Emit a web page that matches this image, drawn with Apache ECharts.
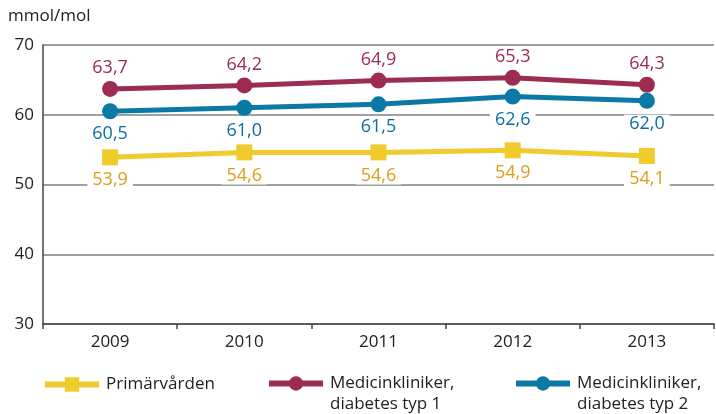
<!DOCTYPE html>
<html>
<head>
<meta charset="utf-8">
<script src="https://cdn.jsdelivr.net/npm/echarts@6/dist/echarts.min.js"></script>
<style>
  html, body { margin: 0; padding: 0; background: #fff; }
  #chart { width: 716px; height: 414px; }
</style>
</head>
<body>
<div id="chart"></div>
<script>
const years = ['2009', '2010', '2011', '2012', '2013'];
const primarvarden = [53.9, 54.6, 54.6, 54.9, 54.1];
const typ1 = [63.7, 64.2, 64.9, 65.3, 64.3];
const typ2 = [60.5, 61.0, 61.5, 62.6, 62.0];
const seriesNames = ['Primärvården', 'Medicinkliniker,\ndiabetes typ 1', 'Medicinkliniker,\ndiabetes typ 2'];

const FONT = '"Open Sans", "Noto Sans", sans-serif';
const fmt = p => p.value.toFixed(1).replace('.', ',');

// serie: namn, data, linjefärg, textfärg, markör, labelposition
function makeSeries(name, data, color, textColor, symbol, pos, dist) {
  return {
    name,
    type: 'line',
    data,
    symbol,
    symbolSize: 16,
    lineStyle: { color, width: 5 },
    itemStyle: { color },
    label: {
      show: true,
      position: pos,
      distance: dist,
      formatter: fmt,
      color: textColor,
      fontFamily: FONT,
      fontSize: 18,
      backgroundColor: '#fff',
      padding: [0, 5]
    },
    animation: false
  };
}

// tvåradig text: tom första rad så att första textraden hamnar mitt för ikonen
function legendItem(name, left, multi) {
  return {
    left,
    top: multi ? 352 : 374,
    padding: 0,
    itemWidth: 54,
    itemHeight: 18,
    itemGap: 0,
    data: [name],
    formatter: multi ? n => ' \n' + n : n => n,
    lineStyle: { width: 6 },
    textStyle: { fontFamily: FONT, fontSize: 17, color: '#222', lineHeight: 21, padding: [0, 0, 0, 2] },
    selectedMode: false
  };
}

const chart = echarts.init(document.getElementById('chart'));
chart.setOption({
  backgroundColor: '#fff',
  title: {
    text: 'mmol/mol',
    left: 3,
    top: 3,
    textStyle: { fontFamily: FONT, fontSize: 17, fontWeight: 'normal', color: '#222' }
  },
  grid: { left: 43, right: 2, top: 45, bottom: 90 },
  legend: [
    legendItem(seriesNames[0], 42, false),
    legendItem(seriesNames[1], 266, true),
    legendItem(seriesNames[2], 513, true)
  ],
  xAxis: {
    type: 'category',
    data: years,
    boundaryGap: true,
    axisLine: { lineStyle: { color: '#444', width: 1.5 } },
    axisTick: { show: true, length: 5, lineStyle: { color: '#444', width: 1.5 } },
    axisLabel: { fontFamily: FONT, fontSize: 17, color: '#222', margin: 10 }
  },
  yAxis: {
    type: 'value',
    min: 30,
    max: 70,
    interval: 10,
    axisLine: { show: true, lineStyle: { color: '#444', width: 1.5 } },
    axisTick: { show: false },
    splitLine: { lineStyle: { color: '#808080', width: 1.5 } },
    axisLabel: { fontFamily: FONT, fontSize: 17, color: '#222', margin: 9 }
  },
  series: [
    makeSeries(seriesNames[0], primarvarden, '#f0cb2c', '#d9a01a', 'rect', 'bottom', 6),
    makeSeries(seriesNames[1], typ1, '#9c2c50', '#9c2c50', 'circle', 'top', 4),
    makeSeries(seriesNames[2], typ2, '#0b79a6', '#0b6ea0', 'circle', 'bottom', 6)
  ]
});
</script>
</body>
</html>
